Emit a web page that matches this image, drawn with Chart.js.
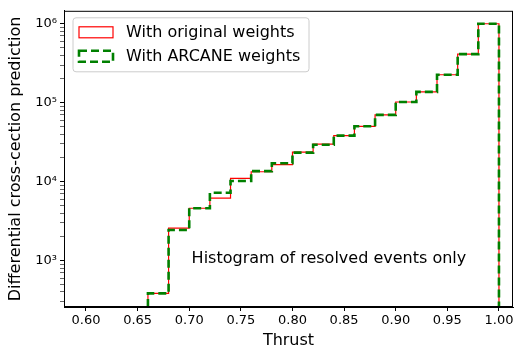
<!DOCTYPE html>
<html>
<head>
<meta charset="utf-8">
<script src="https://cdn.jsdelivr.net/npm/chart.js@4.4.0/dist/chart.umd.min.js"></script>
<style>
  body { margin: 0; background: #fff; }
</style>
</head>
<body>
<canvas id="chart" width="516" height="350"></canvas>
<script>
// bin edges of the thrust histogram
const binEdges = [0.66, 0.68, 0.70, 0.72, 0.74, 0.76, 0.78, 0.80, 0.82, 0.84, 0.86, 0.88, 0.90, 0.92, 0.94, 0.96, 0.98, 1.00];
const originalWeights = [384, 2570, 4600, 6170, 10970, 13340, 16450, 23700, 29900, 38300, 50200, 70100, 102000, 137000, 226000, 413000, 1000000];
const arcaneWeights = [384, 2440, 4600, 7230, 10190, 13600, 17100, 23300, 29300, 38300, 50200, 70100, 102000, 137000, 226000, 413000, 1000000];
const xTicks = [0.60, 0.65, 0.70, 0.75, 0.80, 0.85, 0.90, 0.95, 1.00];
const legendLabels = ["With original weights", "With ARCANE weights"];
const annotationText = "Histogram of resolved events only";

const xMin = 0.5787, xMax = 1.0136;
const yMin = 258, yMax = 1.46e6;
const FONT = "'DejaVu Sans', sans-serif";

function stepPoints(values) {
  const pts = [{ x: binEdges[0], y: yMin }];
  values.forEach((v, i) => pts.push({ x: binEdges[i], y: v }));
  const last = binEdges[binEdges.length - 1];
  pts.push({ x: last, y: values[values.length - 1] });
  pts.push({ x: last, y: yMin });
  return pts;
}

const sup = { "0": "⁰", "1": "¹", "2": "²", "3": "³", "4": "⁴", "5": "⁵", "6": "⁶", "7": "⁷", "8": "⁸", "9": "⁹" };

// frame, legend and text label drawn on top of the chart
const extrasPlugin = {
  id: "extras",
  afterDraw(chart) {
    const ctx = chart.ctx;
    const a = chart.chartArea;
    ctx.save();
    ctx.strokeStyle = "#000";
    ctx.lineWidth = 1;
    ctx.strokeRect(a.left + 0.5, a.top + 0.5, a.right - a.left - 1, a.bottom - a.top - 1);

    // annotation
    ctx.fillStyle = "#000";
    ctx.font = "16px " + FONT;
    ctx.textAlign = "center";
    ctx.textBaseline = "middle";
    ctx.fillText(annotationText, a.left + (a.right - a.left) * 0.59, a.top + (a.bottom - a.top) * 0.837);

    // legend
    const lx = a.left + 9, ly = a.top + 7, lw = 236, lh = 54;
    ctx.beginPath();
    ctx.roundRect(lx, ly, lw, lh, 3);
    ctx.fillStyle = "rgba(255,255,255,0.8)";
    ctx.fill();
    ctx.strokeStyle = "#cccccc";
    ctx.stroke();

    const ds = chart.data.datasets;
    ctx.font = "16px " + FONT;
    ctx.textAlign = "left";
    legendLabels.forEach((label, i) => {
      const cy = ly + 14.5 + i * 24;
      ctx.save();
      ctx.strokeStyle = ds[i].borderColor;
      ctx.lineWidth = ds[i].borderWidth;
      ctx.setLineDash(ds[i].borderDash || []);
      ctx.strokeRect(lx + 6, cy - 5.5, 34, 11);
      ctx.restore();
      ctx.fillStyle = "#000";
      ctx.fillText(label, lx + 53, cy + 1);
    });
    ctx.restore();
  }
};

new Chart(document.getElementById("chart"), {
  type: "line",
  data: {
    datasets: [
      {
        label: legendLabels[0],
        data: stepPoints(originalWeights),
        stepped: "before",
        borderColor: "#ff0000",
        borderWidth: 1.2,
        pointRadius: 0,
        fill: false,
        order: 1,
      },
      {
        label: legendLabels[1],
        data: stepPoints(arcaneWeights),
        stepped: "before",
        borderColor: "#008000",
        borderWidth: 2.6,
        borderDash: [8, 4],
        pointRadius: 0,
        fill: false,
        order: 0,
      },
    ],
  },
  options: {
    responsive: false,
    animation: false,
    devicePixelRatio: 1,
    layout: { padding: { left: 0, right: 3, top: 7, bottom: 0 } },
    plugins: { legend: { display: false }, tooltip: { enabled: false } },
    scales: {
      x: {
        type: "linear",
        min: xMin,
        max: xMax,
        afterBuildTicks: (scale) => { scale.ticks = xTicks.map((v) => ({ value: v })); },
        afterFit: (scale) => { scale.height = 43; },
        ticks: {
          color: "#000",
          font: { family: FONT, size: 13 },
          padding: 2,
          callback: (v) => v.toFixed(2),
        },
        grid: { display: true, drawOnChartArea: false, drawTicks: true, tickLength: 4, tickColor: "#000" },
        border: { display: true, color: "#000" },
        title: { display: true, text: "Thrust", color: "#000", font: { family: FONT, size: 16 }, padding: { top: 1, bottom: 0 } },
      },
      y: {
        type: "logarithmic",
        min: yMin,
        max: yMax,
        afterBuildTicks: (scale) => {
          const ticks = [];
          for (let e = Math.floor(Math.log10(yMin)); e <= Math.ceil(Math.log10(yMax)); e++) {
            for (let m = 1; m <= 9; m++) {
              const v = m * Math.pow(10, e);
              if (v >= yMin && v <= yMax) ticks.push({ value: v, major: m === 1 });
            }
          }
          scale.ticks = ticks;
        },
        afterFit: (scale) => { scale.width = 64; },
        ticks: {
          autoSkip: false,
          color: "#000",
          font: { family: FONT, size: 13 },
          padding: 3,
          callback: (v) => {
            const e = Math.log10(v);
            if (Math.abs(e - Math.round(e)) > 1e-9) return "";
            return "10" + String(Math.round(e)).split("").map((c) => sup[c]).join("");
          },
        },
        grid: {
          display: true,
          drawOnChartArea: false,
          drawTicks: true,
          tickLength: 4,
          tickColor: "#000",
          tickWidth: (ctx) => (ctx.tick && ctx.tick.major ? 1 : 0.6),
        },
        border: { display: true, color: "#000" },
        title: { display: true, text: "Differential cross-cection prediction", color: "#000", font: { family: FONT, size: 16 }, padding: { top: 6, bottom: 0 } },
      },
    },
  },
  plugins: [extrasPlugin],
});
</script>
</body>
</html>
